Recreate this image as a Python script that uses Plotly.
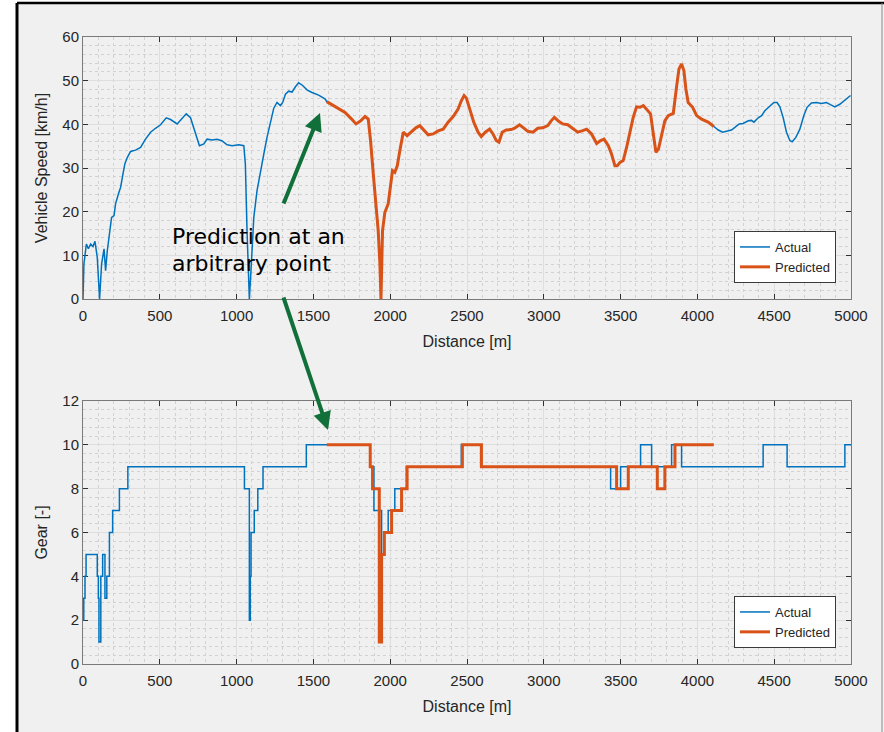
import plotly.graph_objects as go

# ---------------- data ----------------
speed_dist = [0, 6, 22, 35, 50, 65, 78, 93, 108, 121, 137, 147, 158, 173, 186, 202, 212, 230, 245, 260,
              273, 288, 310, 342, 375, 407, 440, 472, 505, 542, 570, 613, 646, 672, 700, 728, 758, 787,
              808, 841, 873, 906, 938, 971, 1014, 1047, 1057, 1068, 1083, 1096, 1112, 1133, 1155, 1177,
              1198, 1220, 1242, 1263, 1285, 1300, 1318, 1339, 1361, 1383, 1404, 1430, 1458, 1491, 1534,
              1577, 1587, 1652, 1706, 1749, 1777, 1808, 1836, 1857, 1872, 1890, 1907, 1922, 1933, 1940,
              1950, 1965, 1987, 2002, 2015, 2030, 2046, 2063, 2085, 2110, 2138, 2167, 2193, 2219, 2247,
              2280, 2312, 2345, 2377, 2410, 2442, 2463, 2481, 2496, 2518, 2544, 2572, 2593, 2619, 2647,
              2669, 2690, 2708, 2729, 2755, 2788, 2810, 2842, 2868, 2896, 2929, 2961, 2994, 3026, 3048,
              3069, 3097, 3123, 3156, 3188, 3221, 3249, 3279, 3311, 3344, 3370, 3392, 3420, 3441, 3463,
              3478, 3496, 3517, 3539, 3561, 3582, 3604, 3626, 3648, 3669, 3695, 3713, 3730, 3747, 3767,
              3788, 3810, 3843, 3864, 3880, 3897, 3912, 3925, 3940, 3969, 3995, 4027, 4070, 4107, 4136,
              4164, 4190, 4222, 4244, 4272, 4298, 4331, 4352, 4368, 4396, 4418, 4439, 4472, 4498, 4519,
              4537, 4558, 4580, 4602, 4617, 4641, 4667, 4693, 4714, 4742, 4775, 4808, 4840, 4866, 4895,
              4927, 4960, 4997]
speed_actual = [0, 8, 12.6, 11.5, 12.6, 12.0, 13.2, 9.5, 0, 8, 11.5, 6.5, 11.0, 15.6, 18.7, 19.1, 21.8,
                24.0, 25.6, 28.6, 31.0, 32.4, 33.8, 34.1, 34.7, 36.6, 38.2, 39.1, 39.9, 41.5, 41.1, 40.1,
                41.5, 42.4, 41.5, 38.5, 35.1, 35.5, 36.6, 36.4, 36.6, 36.2, 35.3, 35.1, 35.3, 35.1, 30.9,
                15.6, 0, 8, 18.7, 24.8, 29.4, 33.2, 37.0, 40.5, 43.7, 45.0, 44.3, 45.0, 46.9, 47.6, 47.4,
                48.6, 49.5, 48.9, 47.9, 47.3, 46.7, 45.8, 45.2, 43.9, 42.7, 41.2, 40.1, 40.8, 41.8, 41.2,
                36.3, 28.6, 21.8, 15.6, 8.0, 0, 15.6, 19.8, 21.8, 25.6, 29.4, 29.0, 30.5, 34.0, 38.2,
                37.4, 38.2, 39.2, 39.7, 38.7, 37.6, 37.8, 38.5, 38.9, 40.5, 41.8, 43.5, 45.4, 46.6, 46.0,
                43.5, 40.5, 38.2, 37.2, 38.2, 38.9, 37.8, 36.3, 35.9, 38.2, 38.7, 38.8, 39.1, 39.9, 39.2,
                38.4, 38.2, 39.1, 39.2, 39.7, 40.8, 41.6, 40.7, 40.1, 39.9, 39.1, 38.2, 38.5, 38.9, 37.8,
                35.6, 36.3, 36.6, 35.1, 33.2, 30.5, 30.5, 31.3, 31.7, 34.7, 38.5, 41.6, 44.0, 43.9, 44.3,
                43.5, 42.4, 37.8, 33.6, 34.4, 37.8, 40.8, 42.0, 42.5, 48.5, 52.7, 53.8, 52.3, 48.1, 45.0,
                43.9, 42.0, 41.2, 40.5, 39.5, 38.7, 38.2, 38.5, 38.7, 39.3, 40.1, 40.2, 40.8, 40.9, 40.5,
                41.5, 42.0, 43.1, 44.3, 45.0, 45.0, 44.0, 41.6, 38.2, 36.3, 36.0, 37.0, 38.9, 42.0, 43.9,
                44.9, 45.0, 44.8, 45.0, 44.5, 44.0, 44.6, 45.6, 46.6]
pred_start = 1587
pred_end = 4107

gear_actual_dist = [0, 5, 13, 20, 93, 100, 104, 116, 128, 143, 155, 172, 193, 237, 292, 1051, 1083,
                    1089, 1094, 1115, 1138, 1172, 1454, 1868, 1894, 1944, 1959, 1987, 2030, 2106, 2463,
                    2589, 3435, 3500, 3630, 3702, 3832, 3897, 4428, 4584, 4960, 5000]
gear_actual = [2, 3, 4, 5, 4, 3, 1, 4, 5, 3, 4, 6, 7, 8, 9, 8, 2, 4, 6, 7, 8, 9, 10, 9, 7, 5, 6, 7,
               8, 9, 10, 9, 8, 9, 10, 9, 10, 9, 10, 9, 10, 10]
gear_pred_dist = [1587, 1870, 1885, 1929, 1944, 1962, 2009, 2074, 2110, 2470, 2594, 3474, 3550, 3739,
                  3788, 3854, 4107]
gear_pred = [10, 9, 8, 1, 5, 6, 7, 8, 9, 10, 9, 8, 9, 8, 9, 10, 10]

x_ticks = [0, 500, 1000, 1500, 2000, 2500, 3000, 3500, 4000, 4500, 5000]
speed_ticks = [0, 10, 20, 30, 40, 50, 60]
gear_ticks = [0, 2, 4, 6, 8, 10, 12]

# ---------------- figure ----------------
W, H = 884, 732
BLUE = "#0072BD"
ORANGE = "#D95319"
GREEN = "#11703a"
TXT = "#262626"

pred_dist = [d for d in speed_dist if pred_start <= d <= pred_end]
pred_speed = [v for d, v in zip(speed_dist, speed_actual) if pred_start <= d <= pred_end]

fig = go.Figure()
fig.add_trace(go.Scatter(x=speed_dist, y=speed_actual, mode="lines", name="Actual",
                         line=dict(color=BLUE, width=1.5), xaxis="x", yaxis="y", legend="legend"))
fig.add_trace(go.Scatter(x=pred_dist, y=pred_speed, mode="lines", name="Predicted",
                         line=dict(color=ORANGE, width=3), xaxis="x", yaxis="y", legend="legend"))
fig.add_trace(go.Scatter(x=gear_actual_dist, y=gear_actual, mode="lines", name="Actual",
                         line=dict(color=BLUE, width=1.5, shape="hv"), xaxis="x2", yaxis="y2",
                         legend="legend2"))
fig.add_trace(go.Scatter(x=gear_pred_dist, y=gear_pred, mode="lines", name="Predicted",
                         line=dict(color=ORANGE, width=3, shape="hv"), xaxis="x2", yaxis="y2",
                         legend="legend2"))

tickfont = dict(family="Liberation Sans, Arial, sans-serif", size=15, color=TXT)
titlefont = dict(family="Liberation Sans, Arial, sans-serif", size=16, color=TXT)

x_dom = [83 / W, 851 / W]


def ax_common(**kw):
    d = dict(showline=True, linecolor="#7a7a7a", linewidth=1, mirror="all",
             ticks="inside", ticklen=5, tickcolor="#303030", tickwidth=1,
             showgrid=True, gridcolor="#dedede", gridwidth=1, zeroline=False,
             tickfont=tickfont, layer="below traces", automargin=False)
    d.update(kw)
    return d


legfont = dict(family="Liberation Sans, Arial, sans-serif", size=13, color=TXT)

fig.update_layout(
    width=W, height=H,
    margin=dict(l=0, r=0, t=0, b=0, autoexpand=False),
    paper_bgcolor="white", plot_bgcolor="white",
    showlegend=True,
    xaxis=ax_common(domain=x_dom, anchor="y", range=[0, 5000], tickvals=x_ticks,
                    ticklabelstandoff=3,
                    minor=dict(dtick=100, showgrid=True, gridcolor="#d2d2d2", griddash="dot"),
                    title=dict(text="Distance [m]", font=titlefont, standoff=12)),
    yaxis=ax_common(domain=[1 - 299 / H, 1 - 37 / H], anchor="x", range=[0, 60], tickvals=speed_ticks,
                    minor=dict(dtick=2, showgrid=True, gridcolor="#d2d2d2", griddash="dot"),
                    title=dict(text="Vehicle Speed [km/h]", font=titlefont, standoff=10)),
    xaxis2=ax_common(domain=x_dom, anchor="y2", range=[0, 5000], tickvals=x_ticks,
                     ticklabelstandoff=3,
                     minor=dict(dtick=100, showgrid=True, gridcolor="#d2d2d2", griddash="dot"),
                     title=dict(text="Distance [m]", font=titlefont, standoff=12)),
    yaxis2=ax_common(domain=[1 - 664 / H, 1 - 401 / H], anchor="x2", range=[0, 12], tickvals=gear_ticks,
                     minor=dict(dtick=0.4, showgrid=True, gridcolor="#d2d2d2", griddash="dot"),
                     title=dict(text="Gear [-]", font=titlefont, standoff=10)),
    legend=dict(x=836 / W, y=1 - 283 / H, xanchor="right", yanchor="bottom",
                bgcolor="white", bordercolor="#3a3a3a", borderwidth=1, font=legfont,
                itemwidth=30, tracegroupgap=0),
    legend2=dict(x=836 / W, y=1 - 648 / H, xanchor="right", yanchor="bottom",
                 bgcolor="white", bordercolor="#3a3a3a", borderwidth=1, font=legfont,
                 itemwidth=30, tracegroupgap=0),
)

# background frame (screenshot style)
fig.add_shape(type="rect", xref="paper", yref="paper", x0=17 / W, x1=1, y0=0, y1=1 - 3 / H,
              fillcolor="#f0f0f0", line=dict(width=0), layer="below")
fig.add_shape(type="line", xref="paper", yref="paper", x0=17 / W, x1=17 / W, y0=0, y1=1 - 3 / H,
              line=dict(color="black", width=3), layer="below")
fig.add_shape(type="line", xref="paper", yref="paper", x0=17 / W, x1=1, y0=1 - 3 / H, y1=1 - 3 / H,
              line=dict(color="black", width=2.5), layer="below")
fig.add_shape(type="line", xref="paper", yref="paper", x0=882 / W, x1=882 / W, y0=0, y1=1 - 3 / H,
              line=dict(color="#8a8a8a", width=1), layer="below")

# annotation text (two lines)
annfont = dict(family="DejaVu Sans, sans-serif", size=22, color="black")
fig.add_annotation(xref="paper", yref="paper", x=171 / W, y=1 - 236 / H, xanchor="left",
                   yanchor="middle", text="Prediction at an", showarrow=False, font=annfont,
                   height=26, borderpad=0)
fig.add_annotation(xref="paper", yref="paper", x=171 / W, y=1 - 263 / H, xanchor="left",
                   yanchor="middle", text="arbitrary point", showarrow=False, font=annfont,
                   height=26, borderpad=0)

# arrows
fig.add_annotation(xref="paper", yref="paper", x=320 / W, y=1 - 113 / H, ax=-37, ay=92,
                   text="", showarrow=True, arrowhead=2, arrowsize=0.9, arrowwidth=4,
                   arrowcolor=GREEN)
fig.add_annotation(xref="paper", yref="paper", x=328 / W, y=1 - 430 / H, ax=-45, ay=-134,
                   text="", showarrow=True, arrowhead=2, arrowsize=0.9, arrowwidth=4,
                   arrowcolor=GREEN)

fig.write_html("out.html", config={"displayModeBar": False},
               post_script="document.body.style.margin='0';")
